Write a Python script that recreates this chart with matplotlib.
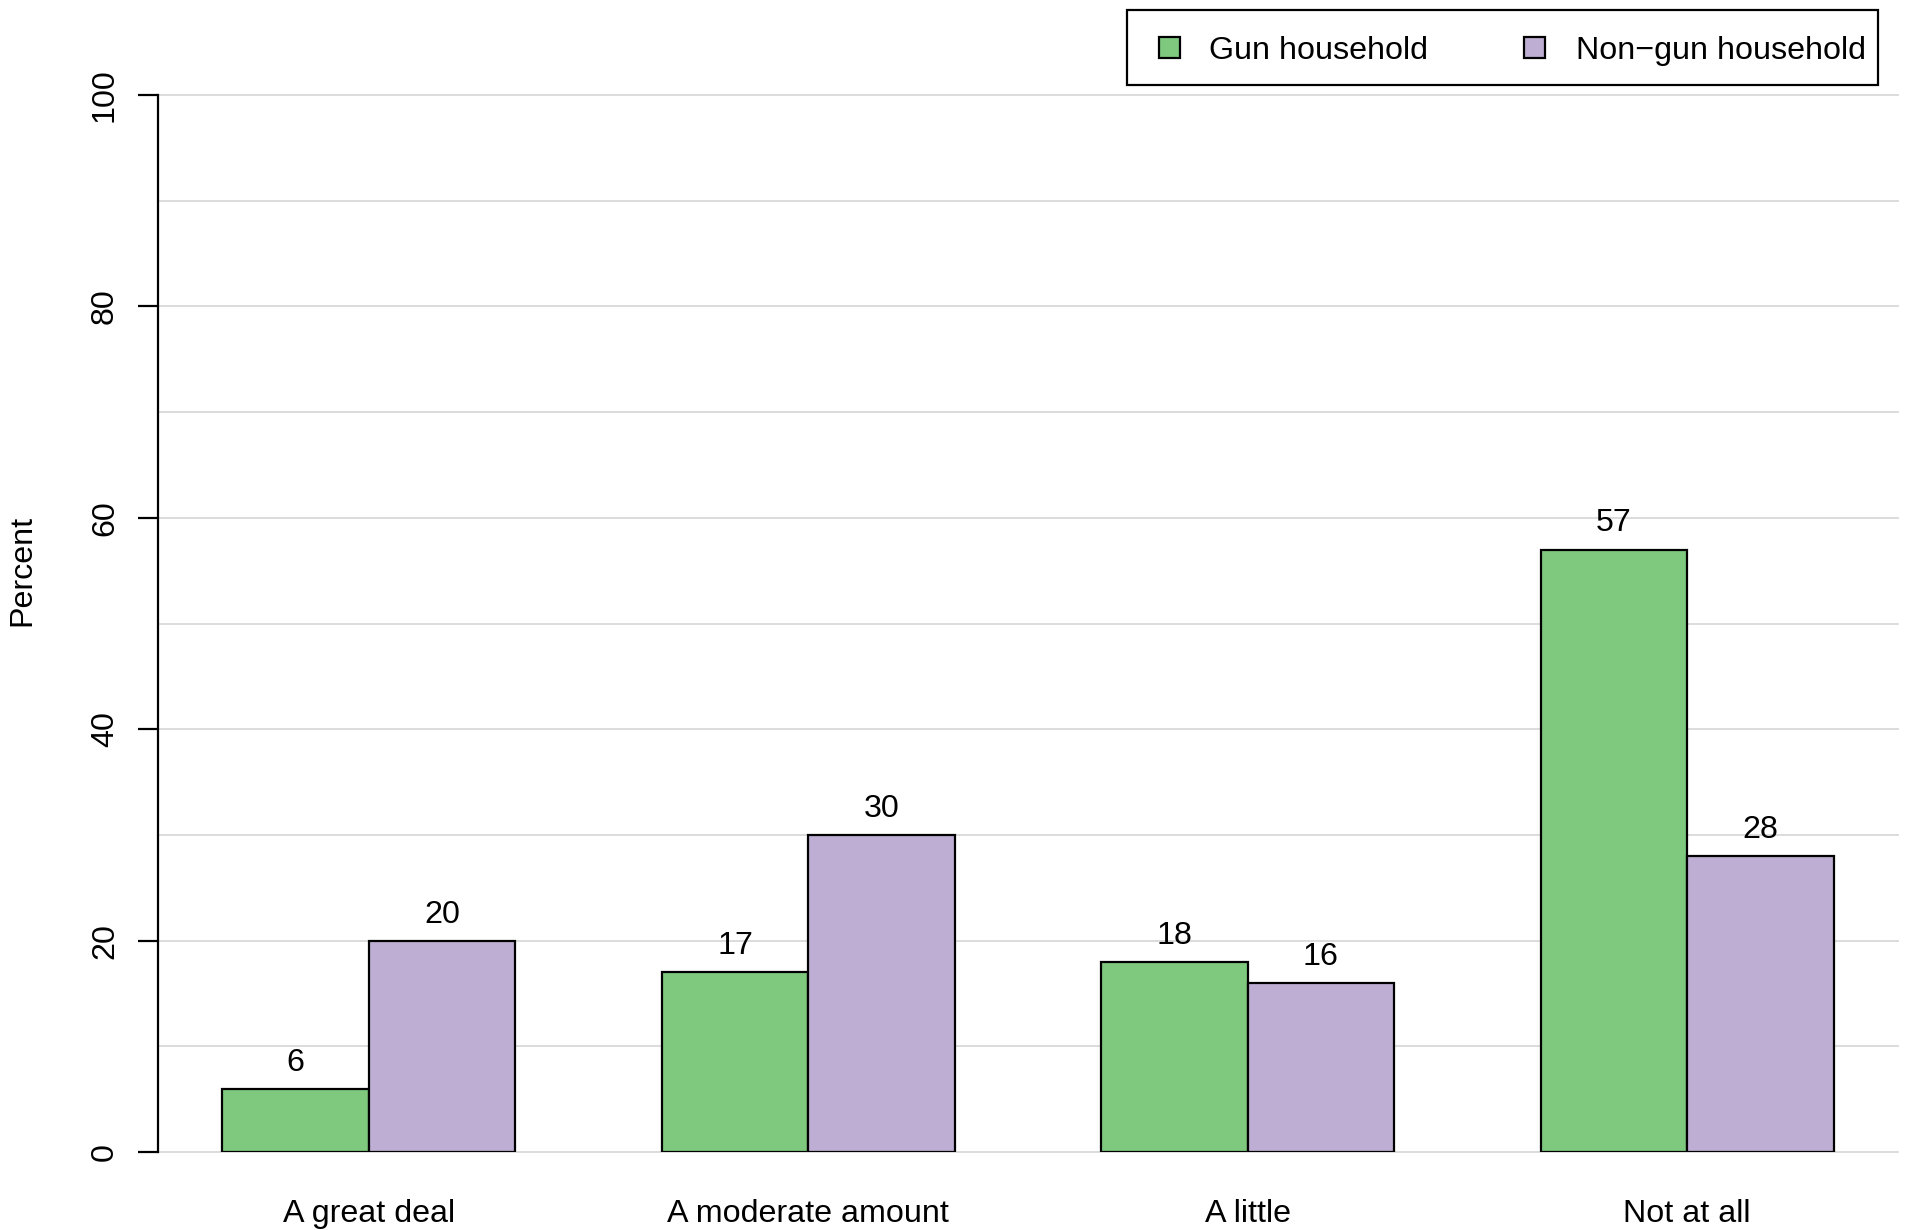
import matplotlib
matplotlib.use("Agg")
import matplotlib.pyplot as plt
from matplotlib.patches import Rectangle
import numpy as np

plt.rcParams['font.family'] = ['Liberation Sans', 'DejaVu Sans']

categories = ["A great deal", "A moderate amount", "A little", "Not at all"]
series_names = ["Gun household", "Non\u2212gun household"]
gun = [6, 17, 18, 57]
non_gun = [20, 30, 16, 28]
yticks = [0, 20, 40, 60, 80, 100]
colors = ["#7FC97F", "#BEAED4"]

W, H = 1905, 1230
fig = plt.figure(figsize=(W / 100, H / 100), dpi=100)
ax = fig.add_axes([158 / W, 78 / H, (1898 - 158) / W, (1152 - 95) / H])

ax.set_xlim(0.56, 12.44)
ax.set_ylim(0, 100)

# gridlines
for g in range(0, 101, 10):
    ax.axhline(g, color="#D9D9D9", lw=1.3, zorder=0, clip_on=False)

fs = 23.2
starts = 1 + 3 * np.arange(len(categories))
for i, (a, b) in enumerate(zip(gun, non_gun)):
    for j, v in enumerate((a, b)):
        x0 = starts[i] + j
        ax.bar(x0 + 0.5, v, width=1.0, color=colors[j], edgecolor="black",
               linewidth=1.6, zorder=2)
        ax.annotate(f"{v}", (x0 + 0.5, v), xytext=(0, 13), textcoords="offset points",
                    ha="center", va="baseline", fontsize=fs)
    ax.annotate(categories[i], (starts[i] + 1, 0), xytext=(0, -50.5),
                textcoords="offset points", ha="center", va="baseline", fontsize=fs)

for s in ["top", "right", "bottom"]:
    ax.spines[s].set_visible(False)
ax.spines["left"].set_linewidth(1.6)
ax.spines["left"].set_bounds(0, 100)
ax.set_xticks([])
ax.set_yticks(yticks)
ax.set_yticklabels([str(t) for t in yticks])
ax.tick_params(axis="y", length=14.4, width=1.6, labelsize=fs, labelrotation=90, pad=13)
for lab in ax.get_yticklabels():
    lab.set_va("center")

fig.text(22 / W, 1 - 570 / H, "Percent", rotation=90, ha="center", va="center", fontsize=fs)

# legend
lx0, lx1, ly0, ly1 = 1127, 1878, 10, 85
fig.patches.append(Rectangle((lx0 / W, 1 - ly1 / H), (lx1 - lx0) / W, (ly1 - ly0) / H,
                             transform=fig.transFigure, facecolor="white",
                             edgecolor="black", linewidth=1.6))
ymid = (ly0 + ly1) / 2
sq = 21
for cx, tx, c, name in [(1169, 1209, colors[0], series_names[0]),
                        (1534, 1576, colors[1], series_names[1])]:
    fig.patches.append(Rectangle(((cx - sq / 2) / W, 1 - (ymid + sq / 2) / H), sq / W, sq / H,
                                 transform=fig.transFigure, facecolor=c,
                                 edgecolor="black", linewidth=1.6))
    fig.text(tx / W, 1 - ymid / H, name, ha="left", va="center_baseline", fontsize=fs)

fig.savefig("out.png", dpi=100)
